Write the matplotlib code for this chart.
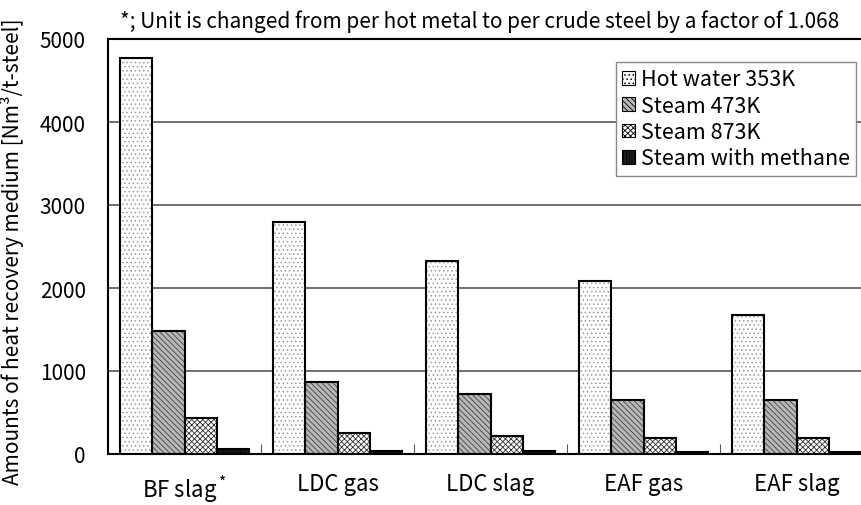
import matplotlib
matplotlib.use("Agg")
import matplotlib.pyplot as plt
import numpy as np

plt.rcParams['font.family'] = ['Noto Sans CJK JP', 'DejaVu Sans']
plt.rcParams['mathtext.fontset'] = 'custom'
plt.rcParams['mathtext.rm'] = 'Noto Sans CJK JP'
plt.rcParams['mathtext.it'] = 'Noto Sans CJK JP'
plt.rcParams['hatch.linewidth'] = 0.6

# data
sources = ["BF slag$^*$", "LDC gas", "LDC slag", "EAF gas", "EAF slag"]
series = ["Hot water 353K", "Steam 473K", "Steam 873K", "Steam with methane"]
hot_water = [4770, 2790, 2330, 2080, 1675]
steam_473 = [1478, 864, 723, 651, 647]
steam_873 = [430, 249, 213, 193, 189]
steam_ch4 = [60, 32, 40, 28, 20]

values = [hot_water, steam_473, steam_873, steam_ch4]
hatches = ['....', '\\\\\\\\\\\\', 'xxxxxx', '||||||']
hatch_cols = ['#9a9a9a', '#404040', '#303030', '#000000']
face_cols = ['white', '#b8b8b8', 'white', '#202020']

fig = plt.figure(figsize=(8.61, 5.06), dpi=100)
ax = fig.add_axes([108/861, 51/506, 765/861, 415/506])

x = np.arange(len(sources))
w = 0.21
handles = []
for i, (v, h) in enumerate(zip(values, hatches)):
    pos = x - 0.42 + i * w
    ax.bar(pos, v, w, align='edge', color=face_cols[i], hatch=h,
           edgecolor=hatch_cols[i], linewidth=0, zorder=2)
    ax.bar(pos, v, w, align='edge', fill=False, edgecolor='black',
           linewidth=1.5, zorder=3)
    handles.append(plt.Rectangle((0, 0), 1, 1, facecolor=face_cols[i],
                                 hatch=h, edgecolor='black', linewidth=0.8))

ax.set_xlim(-0.5, len(sources) - 0.5)
ax.set_ylim(0, 5000)
ax.set_yticks(np.arange(0, 5001, 1000))
ax.tick_params(axis='y', length=0, labelsize=15, pad=16)
ax.yaxis.grid(True, color='#555555', linewidth=1.2, zorder=0)
ax.set_axisbelow(True)

ax.set_xticks(x + 0.5)
ax.set_xticklabels([])
ax.tick_params(axis='x', which='major', direction='in', length=7, color='#555555')
ax.set_xticks(x, minor=True)
ax.set_xticklabels(sources, minor=True, fontsize=16)
ax.tick_params(axis='x', which='minor', length=0, pad=13)

for s in ['left', 'bottom', 'top']:
    ax.spines[s].set_linewidth(1.5)
ax.spines['right'].set_visible(False)

ax.set_ylabel("Amounts of heat recovery medium [Nm³/t-steel]", fontsize=15)
ax.yaxis.set_label_coords(-84/765, 0.49)

fig.text(120/861, 1 - 22/506, "*; Unit is changed from per hot metal to per crude steel by a factor of 1.068",
         fontsize=15, va='center', ha='left')

leg = ax.legend(handles, series, loc='upper right', bbox_to_anchor=(856/861, 1 - 63/506),
                bbox_transform=fig.transFigure, fontsize=15.5, fancybox=False,
                framealpha=1, edgecolor='#888888', handlelength=0.6, handleheight=0.6,
                handletextpad=0.25, labelspacing=0.2, borderpad=0.3, borderaxespad=0)
leg.get_frame().set_linewidth(1.0)

fig.savefig("out.png", dpi=100)
